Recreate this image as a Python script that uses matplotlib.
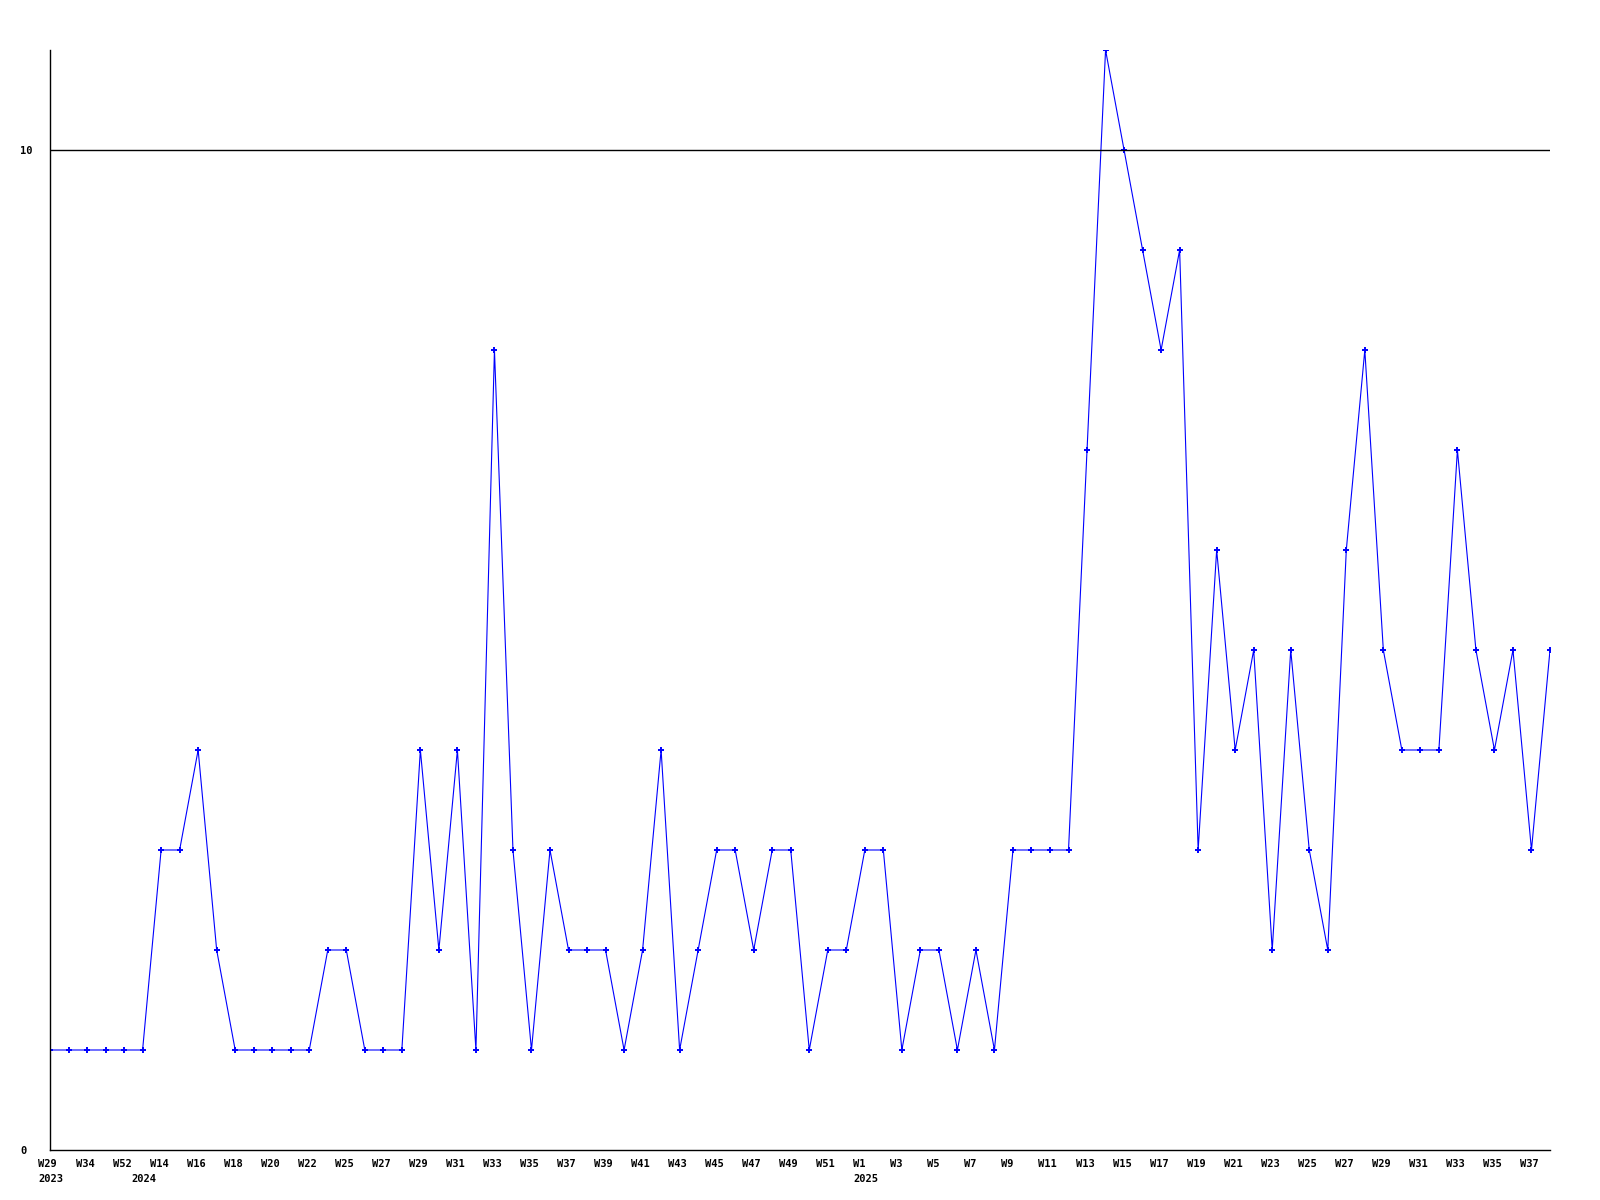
import matplotlib
matplotlib.use("Agg")
import matplotlib.pyplot as plt
from matplotlib.transforms import ScaledTranslation

weeks = ["W29", "W31", "W34", "W40", "W52", "W1",
         "W14", "W15", "W16", "W17", "W18", "W19", "W20", "W21", "W22", "W24",
         "W25", "W26", "W27", "W28", "W29", "W30", "W31", "W32", "W33", "W34",
         "W35", "W36", "W37", "W38", "W39", "W40", "W41", "W42", "W43", "W44",
         "W45", "W46", "W47", "W48", "W49", "W50", "W51", "W52",
         "W1", "W2", "W3", "W4", "W5", "W6", "W7", "W8", "W9", "W10", "W11",
         "W12", "W13", "W14", "W15", "W16", "W17", "W18", "W19", "W20", "W21",
         "W22", "W23", "W24", "W25", "W26", "W27", "W28", "W29", "W30", "W31",
         "W32", "W33", "W34", "W35", "W36", "W37", "W38"]
years = {0: "2023", 5: "2024", 44: "2025"}
values = [1, 1, 1, 1, 1, 1,
          3, 3, 4, 2, 1, 1, 1, 1, 1, 2,
          2, 1, 1, 1, 4, 2, 4, 1, 8, 3,
          1, 3, 2, 2, 2, 1, 2, 4, 1, 2,
          3, 3, 2, 3, 3, 1, 2, 2,
          3, 3, 1, 2, 2, 1, 2, 1, 3, 3, 3,
          3, 7, 11, 10, 9, 8, 9, 3, 6, 4,
          5, 2, 5, 3, 2, 6, 8, 5, 4, 4,
          4, 7, 5, 4, 5, 3, 5]
yticks = [0, 10]

fig = plt.figure(figsize=(16, 12), dpi=100)
ax = fig.add_axes([0.03125, 0.04167, 0.9375, 0.91667])
x = list(range(len(values)))
ax.plot(x, values, color="#0000ff", linewidth=0.8, marker="+", markersize=5,
        markeredgewidth=1.4)
ax.set_xlim(0, len(values) - 1)
ax.set_ylim(0, 11)
ax.axhline(10, color="black", linewidth=1.0)
for s in ["top", "right"]:
    ax.spines[s].set_visible(False)
ax.spines["left"].set_linewidth(1.0)
ax.spines["bottom"].set_linewidth(1.0)
ax.set_yticks(yticks)
ax.set_yticklabels([str(v) for v in yticks], fontfamily="DejaVu Sans Mono",
                   fontweight="bold", fontsize=7.5, ha="left")
ax.tick_params(axis="y", length=0, pad=21.6)
ax.set_xticks([])

font = dict(fontfamily="DejaVu Sans Mono", fontweight="bold", fontsize=7.5)
offset = ScaledTranslation(-11.5 / 100, 0, fig.dpi_scale_trans)
trans = ax.get_xaxis_transform() + offset
for i in range(len(values)):
    if i % 2 == 0:
        ax.text(i, -0.008, weeks[i], transform=trans, ha="left", va="top", **font)
    if i in years:
        ax.text(i, -0.022, years[i], transform=trans, ha="left", va="top", **font)

fig.savefig("out.png", dpi=100)
